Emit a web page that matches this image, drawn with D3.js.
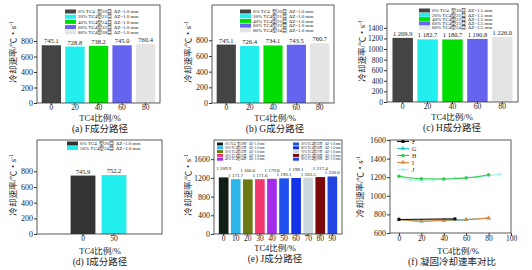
<!DOCTYPE html>
<html><head><meta charset="utf-8">
<script src="https://cdn.jsdelivr.net/npm/d3@7"></script>
<style>
body{margin:0;background:#fff}
svg{display:block}
text{font-family:"Liberation Serif","Noto Sans CJK SC",serif;fill:#222}
</style>
</head><body><svg id="chart" width="532" height="270"></svg>
<script>
// ---------- data ----------
const catsFGH = ["0","20","40","60","80"];
const valsF = [745.1, 728.8, 738.2, 745.0, 760.4];
const valsG = [745.1, 726.4, 734.1, 743.5, 760.7];
const valsH = [1209.9, 1182.7, 1180.7, 1190.8, 1226.0];
const catsI = ["0","50"];
const valsI = [745.9, 752.2];
const catsJ = ["0","10","20","30","40","50","60","70","80","90"];
const valsJ = [1209.9, 1171.7, 1166.6, 1171.6, 1179.8, 1190.1, 1198.1, 1203.5, 1217.4, 1230.0];

const colors5 = ["#444444","#22eeee","#00dd00","#6464ee","#e4e4e4"];
const colorsI = ["#333333","#22eeee"];
const colorsJ = ["#0f1f16","#2db6ea","#6b7a12","#f0386c","#a42ee8","#1f50f0","#1432e8","#cbd9dd","#7a0a0a","#2244e0"];

const legendF = [["0% TC4","型20目","ΔZ=1.0 mm"],["20% TC4","型21目","ΔZ=1.0 mm"],["40% TC4","型24目","ΔZ=1.0 mm"],["60% TC4","型22目","ΔZ=1.0 mm"],["80% TC4","型28目","ΔZ=1.0 mm"]];
const legendG = [["0% TC4","型20目","ΔZ=1.0 mm"],["20% TC4","型21目","ΔZ=1.0 mm"],["40% TC4","型23目","ΔZ=1.0 mm"],["60% TC4","型22目","ΔZ=1.0 mm"],["80% TC4","型24目","ΔZ=1.0 mm"]];
const legendH = [["0% TC4","型20目","ΔZ=1.5 mm"],["20% TC4","型21目","ΔZ=1.5 mm"],["40% TC4","型23目","ΔZ=1.5 mm"],["60% TC4","型22目","ΔZ=1.5 mm"],["80% TC4","型24目","ΔZ=1.5 mm"]];
const legendI = [["0% TC4","型20目","ΔZ=1.0 mm"],["50% TC4","型24目","ΔZ=1.0 mm"]];
const legendJ = catsJ.map(c => [c + "% TC4","型2" + c.slice(0,1) + "目","ΔZ=1.0 mm"]);

const ticks5 = [0,200,400,600,800];
const ticksH = [0,200,400,600,800,1000,1200,1400];
const ticksJ = [0,400,800,1200,1600];

// line comparison panel
const lineSeries = [
  {name:"J", x:[0,10,20,30,40,50,60,70,80,90], y:valsJ, color:"#aaeef0", marker:"star"},
  {name:"G", x:[0,20,40,60,80], y:valsG, color:"#22cccc", marker:"triangle"},
  {name:"H", x:[0,20,40,60,80], y:valsH, color:"#33cc44", marker:"circle"},
  {name:"I", x:[0,20,40,60,80], y:valsF, color:"#dd8844", marker:"triangle"},
  {name:"F", x:[0,50], y:valsI, color:"#111111", marker:"square"}
];
const legendLineOrder = ["F","G","H","I","J"];
const ticksFx = [0,20,40,60,80,100];
const ticksFy = [600,800,1000,1200,1400,1600];

const yTitle = "冷却速率/℃・s";
const xTitle = "TC4比例/%";

// ---------- drawing ----------
const svg = d3.select("#chart");
const fmtInt = d3.format("d");

function yLabel(g, x, y) {
  const t = g.append("text").attr("transform", `translate(${x},${y}) rotate(-90)`)
    .attr("text-anchor","middle").attr("font-size",8.5);
  t.append("tspan").text(yTitle);
  t.append("tspan").attr("font-size",5.5).attr("dy",-3).text("-1");
}

function styleAxis(a, fs) {
  a.select(".domain").remove();
  a.selectAll("line").attr("stroke","#333");
  a.selectAll("text").attr("font-size",fs).attr("font-family",null).attr("fill","#222");
}

function barPanel(cfg) {
  const g = svg.append("g");
  const {l,r,t,b} = cfg.frame;
  const x = d3.scaleBand().domain(cfg.cats).range(cfg.xr || [l,r])
    .paddingInner(cfg.pi).paddingOuter(cfg.po);
  const y = d3.scaleLinear().domain([0,cfg.ymax]).range([b,t]);

  g.selectAll("rect.bar").data(cfg.vals).join("rect").attr("class","bar")
    .attr("x",(d,i)=>x(cfg.cats[i])).attr("width",x.bandwidth())
    .attr("y",d=>y(d)).attr("height",d=>b-y(d))
    .attr("fill",(d,i)=>cfg.colors[i]);

  g.selectAll("text.val").data(cfg.vals).join("text").attr("class","val")
    .attr("x",(d,i)=>x(cfg.cats[i])+x.bandwidth()/2)
    .attr("y",(d,i)=>y(d)-2-(cfg.stagger && i%2===0 ? cfg.stagger : 0))
    .attr("text-anchor","middle").attr("font-size",cfg.valSize)
    .text(d=>d.toFixed(1).replace(/^(\d)(\d{3})/,"$1 $2"));

  g.append("rect").attr("x",l).attr("y",t).attr("width",r-l).attr("height",b-t)
    .attr("fill","none").attr("stroke","#333").attr("stroke-width",0.8);

  const ya = g.append("g").attr("transform",`translate(${l},0)`)
    .call(d3.axisLeft(y).tickValues(cfg.ticks).tickFormat(fmtInt).tickSize(3).tickPadding(1));
  styleAxis(ya, cfg.tickFs || 8);

  const xa = g.append("g").attr("transform",`translate(0,${b})`)
    .call(d3.axisBottom(x).tickSize(2).tickPadding(0));
  styleAxis(xa, 7.5);

  // legend
  const L = cfg.legend;
  cfg.legendRows.forEach((row,i) => {
    const col = L.cols ? Math.floor(i / L.perCol) : 0;
    const ri = L.cols ? i % L.perCol : i;
    const px = L.x + col*(L.colW || 0), py = L.y + ri*L.dy;
    g.append("rect").attr("x",px).attr("y",py-L.ph/2).attr("width",L.pw).attr("height",L.ph)
      .attr("fill",cfg.colors[i]);
    row.forEach((s,k)=>{
      g.append("text").attr("x",px+L.pw+2+L.offs[k]).attr("y",py+L.fs*0.35)
        .attr("font-size",L.fs).attr("fill","#666").text(s);
    });
  });

  yLabel(g, cfg.ylx, (t+b)/2 - 2);
  g.append("text").attr("x",cfg.cx).attr("y",cfg.xty).attr("text-anchor","middle")
    .attr("font-size",8.5).text(xTitle);
  g.append("text").attr("x",cfg.cx).attr("y",cfg.capy).attr("text-anchor","middle")
    .attr("font-size",9.5).text(cfg.caption);
}

const leg5 = {x:64, y:11.5, dy:5.2, pw:11, ph:4, fs:5, offs:[0,19,36]};

barPanel({frame:{l:37,r:160,t:5,b:103}, cats:catsFGH, vals:valsF, colors:colors5,
  ymax:1265, ticks:ticks5, pi:0.18, po:0.2, valSize:6.5,
  legend:{...leg5, x:65}, legendRows:legendF, ylx:16, cx:100, xty:120.5, capy:131.5, caption:"(a) F成分路径"});
barPanel({frame:{l:212,r:334,t:5,b:103}, cats:catsFGH, vals:valsG, colors:colors5,
  ymax:1250, ticks:ticks5, pi:0.18, po:0.2, valSize:6.5,
  legend:{...leg5, x:240, dy:4.7}, legendRows:legendG, ylx:191, cx:275, xty:120.5, capy:131.5, caption:"(b) G成分路径"});
barPanel({frame:{l:387,r:518,t:4,b:102}, cats:catsFGH, vals:valsH, colors:colors5,
  ymax:1850, ticks:ticksH, pi:0.18, po:0.22, valSize:6.5, tickFs:7.5,
  legend:{...leg5, x:419, y:10.5, dy:4.3}, legendRows:legendH, ylx:365, cx:452, xty:119.5, capy:130.5, caption:"(c) H成分路径"});
barPanel({frame:{l:37,r:162,t:140,b:234}, cats:catsI, vals:valsI, colors:colorsI,
  xr:[67.5,129.5], ymax:1200, ticks:ticks5, pi:0.2, po:0.1, valSize:6.5,
  legend:{x:67, y:143.5, dy:4.5, pw:11, ph:4, fs:5, offs:[0,19,36]}, legendRows:legendI,
  ylx:16, cx:100, xty:253.5, capy:264.5, caption:"(d) I成分路径"});
barPanel({frame:{l:214,r:342,t:140,b:234}, cats:catsJ, vals:valsJ, colors:colorsJ,
  ymax:2010, ticks:ticksJ, pi:0.2, po:0.4, valSize:5, stagger:5,
  legend:{x:217, y:144, dy:3.8, pw:6, ph:3, fs:3.2, offs:[0,12,24], cols:2, perCol:5, colW:76},
  legendRows:legendJ, ylx:191, cx:275, xty:250.5, capy:261.5, caption:"(e) J成分路径"});

// ---------- panel f: line comparison ----------
(function(){
  const g = svg.append("g");
  const l=390, r=511, t=140, b=233;
  const x = d3.scaleLinear().domain([-8,100]).range([l,r]);
  const y = d3.scaleLinear().domain([600,1600]).range([b,t]);
  const line = d3.line().curve(d3.curveMonotoneX);
  const sym = {circle:d3.symbolCircle, square:d3.symbolSquare, triangle:d3.symbolTriangle, star:d3.symbolStar};

  lineSeries.forEach(s=>{
    const pts = s.x.map((xv,i)=>[x(xv), y(s.y[i])]);
    g.append("path").attr("d",line(pts)).attr("fill","none")
      .attr("stroke",s.color).attr("stroke-width",1.1);
    g.selectAll(null).data(pts).join("path")
      .attr("transform",d=>`translate(${d[0]},${d[1]})`)
      .attr("d",d3.symbol(sym[s.marker],9)).attr("fill",s.color);
  });

  g.append("rect").attr("x",l).attr("y",t).attr("width",r-l).attr("height",b-t)
    .attr("fill","none").attr("stroke","#333").attr("stroke-width",0.8);

  const ya = g.append("g").attr("transform",`translate(${l},0)`)
    .call(d3.axisLeft(y).tickValues(ticksFy).tickFormat(fmtInt).tickSize(3).tickPadding(1));
  styleAxis(ya, 8);
  const xa = g.append("g").attr("transform",`translate(0,${b})`)
    .call(d3.axisBottom(x).tickValues(ticksFx).tickFormat(fmtInt).tickSize(3).tickPadding(0));
  styleAxis(xa, 7.5);

  legendLineOrder.forEach((n,i)=>{
    const s = lineSeries.find(d=>d.name===n);
    const py = 141.5 + i*7;
    g.append("line").attr("x1",397).attr("x2",409).attr("y1",py).attr("y2",py)
      .attr("stroke",s.color).attr("stroke-width",1.1);
    g.append("path").attr("transform",`translate(403,${py})`)
      .attr("d",d3.symbol(sym[s.marker],9)).attr("fill",s.color);
    g.append("text").attr("x",412).attr("y",py+2.1).attr("font-size",6).text(n);
  });

  yLabel(g, 363, (t+b)/2);
  g.append("text").attr("x",458).attr("y",253.5).attr("text-anchor","middle").attr("font-size",8.5).text(xTitle);
  g.append("text").attr("x",452).attr("y",264.5).attr("text-anchor","middle").attr("font-size",9.5).text("(f) 凝固冷却速率对比");
})();
</script>
</body></html>
